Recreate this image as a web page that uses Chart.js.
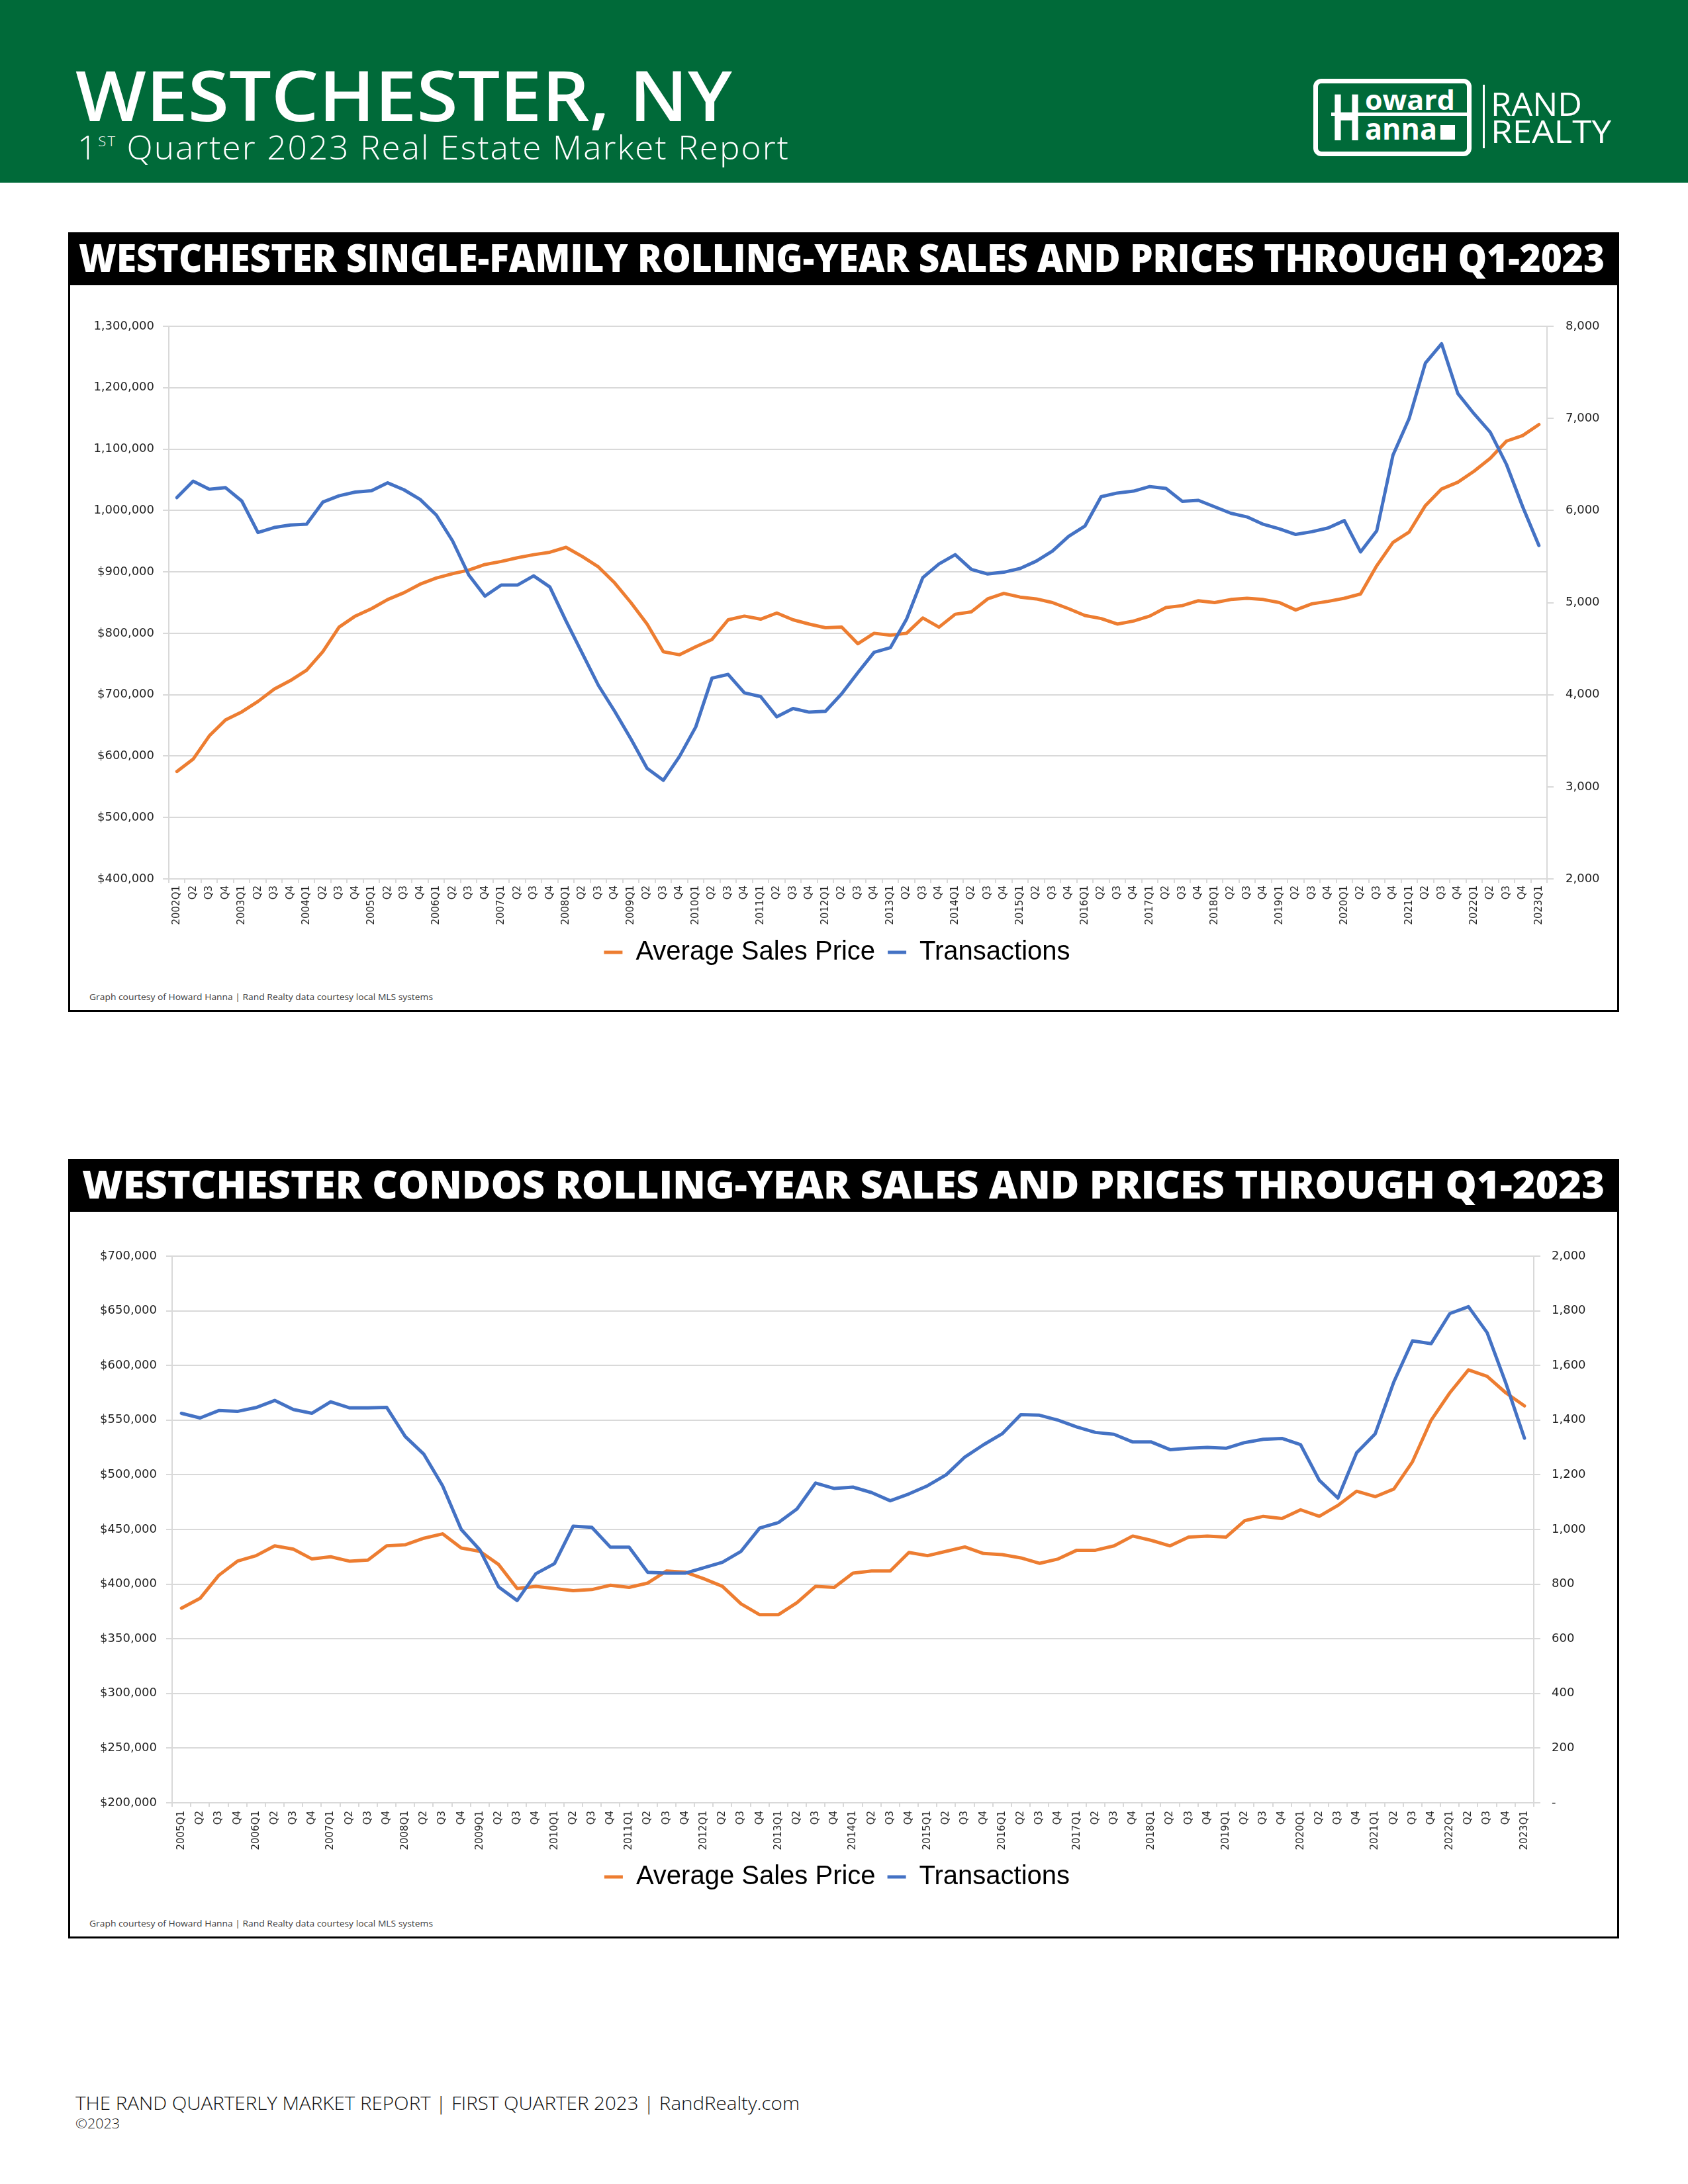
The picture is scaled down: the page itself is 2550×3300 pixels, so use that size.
<!DOCTYPE html>
<html>
<head>
<meta charset="utf-8">
<title>Westchester, NY — Q1 2023 Market Report</title>
<script src="https://cdn.jsdelivr.net/npm/chart.js@4.4.1/dist/chart.umd.min.js"></script>
<style>
  html, body { margin: 0; padding: 0; }
  body {
    width: 2550px; height: 3300px; position: relative; overflow: hidden;
    background: #fff; font-family: 'Open Sans', sans-serif;
  }
  .abs { position: absolute; white-space: nowrap; line-height: 1; display: inline-block; transform-origin: 0 0; }

  /* ── header band ── */
  #band { position: absolute; left: 0; top: 0; width: 2550px; height: 276px; background: #006a39; }
  #city { left: 114px; top: 90px; font-size: 105px; font-weight: 600; color: #fff; }
  #sub  { left: 117px; top: 198px; font-size: 49px; font-weight: 300; color: #fff; letter-spacing: 2px; }
  #sub .sup { font-size: 21px; vertical-align: 20px; }

  /* ── logo ── */
  #logoBox { position: absolute; left: 1984px; top: 119px; width: 239px; height: 117px;
             border: 7px solid #fff; border-radius: 12px; box-sizing: border-box; }
  #logoBar { position: absolute; left: 2011px; top: 170px; width: 206px; height: 5px; background: #fff; }
  #logoBlk { position: absolute; left: 2176px; top: 189px; width: 22px; height: 22px; background: #fff; }
  #logoDiv { position: absolute; left: 2240px; top: 128px; width: 3px; height: 96px; background: #fff; }
  .logoTxt { color: #fff; font-weight: 700; }
  .rand { color: #fff; font-weight: 400; }

  /* ── chart frames ── */
  .frame { position: absolute; left: 103px; width: 2343px; height: 1178px;
           border: 3px solid #000; box-sizing: border-box; }
  .bar   { position: absolute; left: 103px; width: 2343px; height: 80px; background: #000; }
  .ttl   { font-size: 59px; font-weight: 800; color: #fff; }
  .wrap  { position: absolute; left: 106px; width: 2337px; height: 1050px; }
  .note  { font-size: 12px; color: #404040; }

  .foot  { color: #111; font-weight: 300; }
</style>
</head>
<body>

<div id="band"></div>
<div id="city" class="abs" data-w="992">WESTCHESTER, NY</div>
<div id="sub" class="abs" data-w="1076">1<span class="sup">ST</span> Quarter 2023 Real Estate Market Report</div>

<div id="logoBox"></div>
<div class="abs logoTxt" style="left:2011px; top:126px; font-size:97px;" data-w="46">H</div>
<div id="logoBar"></div>
<div class="abs logoTxt" style="left:2062px; top:129px; font-size:42px;" data-w="136">oward</div>
<div class="abs logoTxt" style="left:2062px; top:172px; font-size:44px;" data-w="109">anna</div>
<div id="logoBlk"></div>
<div id="logoDiv"></div>
<div class="abs rand" style="left:2252px; top:132px; font-size:49px;" data-w="138">RAND</div>
<div class="abs rand" style="left:2252px; top:174px; font-size:48px;" data-w="182">REALTY</div>

<!-- single-family -->
<div class="frame" style="top:351px;"></div>
<div class="bar" style="top:351px;"></div>
<div class="abs ttl" style="left:119px; top:359px;" data-w="2305">WESTCHESTER SINGLE-FAMILY ROLLING-YEAR SALES AND PRICES THROUGH Q1-2023</div>
<div class="wrap" style="top:431px;"><canvas id="sfChart"></canvas></div>
<div class="abs note" style="left:135px; top:1501px;" data-w="519">Graph courtesy of Howard Hanna | Rand Realty data courtesy local MLS systems</div>

<!-- condos -->
<div class="frame" style="top:1751px;"></div>
<div class="bar" style="top:1751px;"></div>
<div class="abs ttl" style="left:124px; top:1759px;" data-w="2300">WESTCHESTER CONDOS ROLLING-YEAR SALES AND PRICES THROUGH Q1-2023</div>
<div class="wrap" style="top:1831px;"><canvas id="coChart"></canvas></div>
<div class="abs note" style="left:135px; top:2901px;" data-w="519">Graph courtesy of Howard Hanna | Rand Realty data courtesy local MLS systems</div>

<!-- footer -->
<div class="abs foot" style="left:114px; top:3163px; font-size:28px;" data-w="1094">THE RAND QUARTERLY MARKET REPORT | FIRST QUARTER 2023 | RandRealty.com</div>
<div class="abs foot" style="left:114px; top:3199px; font-size:20px;" data-w="67">©2023</div>

<script>
/* ── data: single-family, 2002Q1 – 2023Q1 ── */
const sfLabels = [
  '2002Q1','Q2','Q3','Q4', '2003Q1','Q2','Q3','Q4', '2004Q1','Q2','Q3','Q4',
  '2005Q1','Q2','Q3','Q4', '2006Q1','Q2','Q3','Q4', '2007Q1','Q2','Q3','Q4',
  '2008Q1','Q2','Q3','Q4', '2009Q1','Q2','Q3','Q4', '2010Q1','Q2','Q3','Q4',
  '2011Q1','Q2','Q3','Q4', '2012Q1','Q2','Q3','Q4', '2013Q1','Q2','Q3','Q4',
  '2014Q1','Q2','Q3','Q4', '2015Q1','Q2','Q3','Q4', '2016Q1','Q2','Q3','Q4',
  '2017Q1','Q2','Q3','Q4', '2018Q1','Q2','Q3','Q4', '2019Q1','Q2','Q3','Q4',
  '2020Q1','Q2','Q3','Q4', '2021Q1','Q2','Q3','Q4', '2022Q1','Q2','Q3','Q4',
  '2023Q1'
];
const sfPrice = [
  575000, 595000, 633000, 659000,   672000, 689000, 709000, 723000,
  740000, 770000, 810000, 828000,   840000, 855000, 866000, 880000,
  890000, 897000, 903000, 912000,   917000, 923000, 928000, 932000,
  940000, 925000, 908000, 882000,   850000, 815000, 770000, 765000,
  778000, 790000, 822000, 828000,   823000, 833000, 822000, 815000,
  809000, 810000, 783000, 800000,   797000, 800000, 825000, 810000,
  831000, 835000, 856000, 865000,   859000, 856000, 850000, 840000,
  829000, 824000, 815000, 820000,   828000, 842000, 845000, 853000,
  850000, 855000, 857000, 855000,   850000, 838000, 848000, 852000,
  857000, 864000, 910000, 948000,   965000, 1008000, 1035000, 1046000,
  1064000, 1085000, 1113000, 1122000,
  1140000
];
const sfSales = [
  6140, 6318, 6231, 6248,   6103, 5761, 5815, 5843,
  5852, 6091, 6160, 6200,   6215, 6300, 6225, 6120,
  5950, 5670, 5300, 5070,   5190, 5190, 5290, 5170,
  4800, 4450, 4100, 3820,   3520, 3200, 3070, 3330,
  3650, 4180, 4220, 4020,   3980, 3760, 3850, 3810,
  3820, 4010, 4240, 4460,   4510, 4820, 5270, 5420,
  5520, 5360, 5310, 5330,   5370, 5450, 5560, 5720,
  5830, 6150, 6190, 6210,   6260, 6240, 6100, 6110,
  6040, 5970, 5930, 5850,   5800, 5740, 5770, 5810,
  5890, 5550, 5780, 6600,   7000, 7600, 7810, 7270,
  7050, 6850, 6500, 6040,
  5620
];
const sfPriceTicks = ['$400,000','$500,000','$600,000','$700,000','$800,000',
                      '$900,000','1,000,000','1,100,000','1,200,000','1,300,000'];
const sfSalesTicks = ['2,000','3,000','4,000','5,000','6,000','7,000','8,000'];

/* ── data: condos, 2005Q1 – 2023Q1 ── */
const coLabels = [
  '2005Q1','Q2','Q3','Q4', '2006Q1','Q2','Q3','Q4', '2007Q1','Q2','Q3','Q4',
  '2008Q1','Q2','Q3','Q4', '2009Q1','Q2','Q3','Q4', '2010Q1','Q2','Q3','Q4',
  '2011Q1','Q2','Q3','Q4', '2012Q1','Q2','Q3','Q4', '2013Q1','Q2','Q3','Q4',
  '2014Q1','Q2','Q3','Q4', '2015Q1','Q2','Q3','Q4', '2016Q1','Q2','Q3','Q4',
  '2017Q1','Q2','Q3','Q4', '2018Q1','Q2','Q3','Q4', '2019Q1','Q2','Q3','Q4',
  '2020Q1','Q2','Q3','Q4', '2021Q1','Q2','Q3','Q4', '2022Q1','Q2','Q3','Q4',
  '2023Q1'
];
const coPrice = [
  378000, 387000, 408000, 421000,   426000, 435000, 432000, 423000,
  425000, 421000, 422000, 435000,   436000, 442000, 446000, 433000,
  430000, 418000, 396000, 398000,   396000, 394000, 395000, 399000,
  397000, 401000, 412000, 411000,   405000, 398000, 382000, 372000,
  372000, 383000, 398000, 397000,   410000, 412000, 412000, 429000,
  426000, 430000, 434000, 428000,   427000, 424000, 419000, 423000,
  431000, 431000, 435000, 444000,   440000, 435000, 443000, 444000,
  443000, 458000, 462000, 460000,   468000, 462000, 472000, 485000,
  480000, 487000, 512000, 550000,   575000, 596000, 590000, 575000,
  563000
];
const coSales = [
  1425, 1408, 1435, 1432,   1446, 1472, 1439, 1425,
  1467, 1445, 1445, 1447,   1340, 1275, 1160, 1000,
  925, 790, 740, 838,       875, 1012, 1008, 935,
  935, 843, 840, 840,       860, 880, 920, 1005,
  1025, 1075, 1170, 1150,   1155, 1135, 1105, 1130,
  1160, 1200, 1265, 1310,   1350, 1420, 1418, 1400,
  1375, 1355, 1348, 1320,   1320, 1292, 1297, 1300,
  1297, 1318, 1330, 1333,   1310, 1180, 1115, 1280,
  1350, 1540, 1690, 1680,   1790, 1815, 1720, 1536,
  1334
];
const coPriceTicks = ['$200,000','$250,000','$300,000','$350,000','$400,000','$450,000',
                      '$500,000','$550,000','$600,000','$650,000','$700,000'];
const coSalesTicks = ['-','200','400','600','800','1,000','1,200','1,400','1,600','1,800','2,000'];

/* ── style ── */
const ORANGE = '#ed7d31';
const BLUE   = '#4472c4';
const GRID   = '#d9d9d9';
const TXT    = '#1f1f1f';

Chart.defaults.font.family = "'DejaVu Sans', sans-serif";
Chart.defaults.color = TXT;

/* squeeze each text block to its measured width in the report */
function fitText() {
  document.querySelectorAll('[data-w]').forEach(el => {
    const w = el.getBoundingClientRect().width;
    el.style.transform = `scaleX(${el.dataset.w / w})`;
  });
}
fitText();

function makeChart(id, c) {
  return new Chart(document.getElementById(id), {
    type: 'line',
    data: {
      labels: c.labels,
      datasets: [
        {
          label: 'Average Sales Price', data: c.price, yAxisID: 'y', order: 1,
          borderColor: ORANGE, backgroundColor: ORANGE, borderWidth: 5,
          pointRadius: 0, tension: 0, borderJoinStyle: 'round', borderCapStyle: 'round'
        },
        {
          label: 'Transactions', data: c.sales, yAxisID: 'y1', order: 0,
          borderColor: BLUE, backgroundColor: BLUE, borderWidth: 5,
          pointRadius: 0, tension: 0, borderJoinStyle: 'round', borderCapStyle: 'round'
        }
      ]
    },
    options: {
      responsive: true, maintainAspectRatio: false,
      animation: false, devicePixelRatio: 1,
      // right padding nudges the centred legend left; the y1 box shrinks by the same amount
      layout: { padding: { top: c.padTop, left: 0, right: 20, bottom: c.padBottom } },
      plugins: {
        legend: {
          position: 'bottom',
          labels: {
            usePointStyle: true, pointStyle: 'line', pointStyleWidth: 28,
            padding: c.legPad, color: '#000',
            font: { family: "'Liberation Sans', Arial, sans-serif", size: 40 },
            sort: (a, b) => a.datasetIndex - b.datasetIndex
          }
        },
        tooltip: { enabled: false }
      },
      scales: {
        x: {
          offset: true,
          grid: { offset: true, drawOnChartArea: false, tickLength: 6, color: GRID, lineWidth: 2 },
          border: { display: true, color: GRID, width: 2 },
          ticks: {
            autoSkip: false, maxRotation: 90, minRotation: 90, padding: c.xPad,
            font: { size: 15 }, color: '#262626'
          },
          // labels are clipped to the axis box, so keep it tall enough
          afterFit: s => { s.height = c.xH; }
        },
        y: {
          position: 'left',
          min: c.pMin, max: c.pMax,
          grid: { color: GRID, lineWidth: 2, tickLength: 9 },
          border: { display: true, color: GRID, width: 2 },
          ticks: { stepSize: c.pStep, padding: c.lPad, font: { size: 18 },
                   callback: (v, i) => c.pTicks[i] },
          afterFit: s => { s.width = c.lW; }
        },
        y1: {
          position: 'right',
          min: c.sMin, max: c.sMax,
          grid: { drawOnChartArea: false, color: GRID, lineWidth: 2, tickLength: 10 },
          border: { display: true, color: GRID, width: 2 },
          ticks: { stepSize: c.sStep, padding: c.rPad, font: { size: 18 },
                   callback: (v, i) => c.sTicks[i] },
          afterFit: s => { s.width = c.rW - 20; }
        }
      }
    }
  });
}

makeChart('sfChart', {
  labels: sfLabels, price: sfPrice, sales: sfSales,
  pMin: 400000, pMax: 1300000, pStep: 100000, pTicks: sfPriceTicks,
  sMin: 2000, sMax: 8000, sStep: 1000, sTicks: sfSalesTicks,
  padTop: 62, padBottom: 12, xH: 72, xPad: 4, legPad: 19,
  lW: 149, rW: 106, lPad: 13, rPad: 18
});

makeChart('coChart', {
  labels: coLabels, price: coPrice, sales: coSales,
  pMin: 200000, pMax: 700000, pStep: 50000, pTicks: coPriceTicks,
  sMin: 0, sMax: 2000, sStep: 200, sTicks: coSalesTicks,
  padTop: 67, padBottom: 15, xH: 74, xPad: 6, legPad: 18,
  lW: 154, rW: 126, lPad: 14, rPad: 17
});
</script>
</body>
</html>
